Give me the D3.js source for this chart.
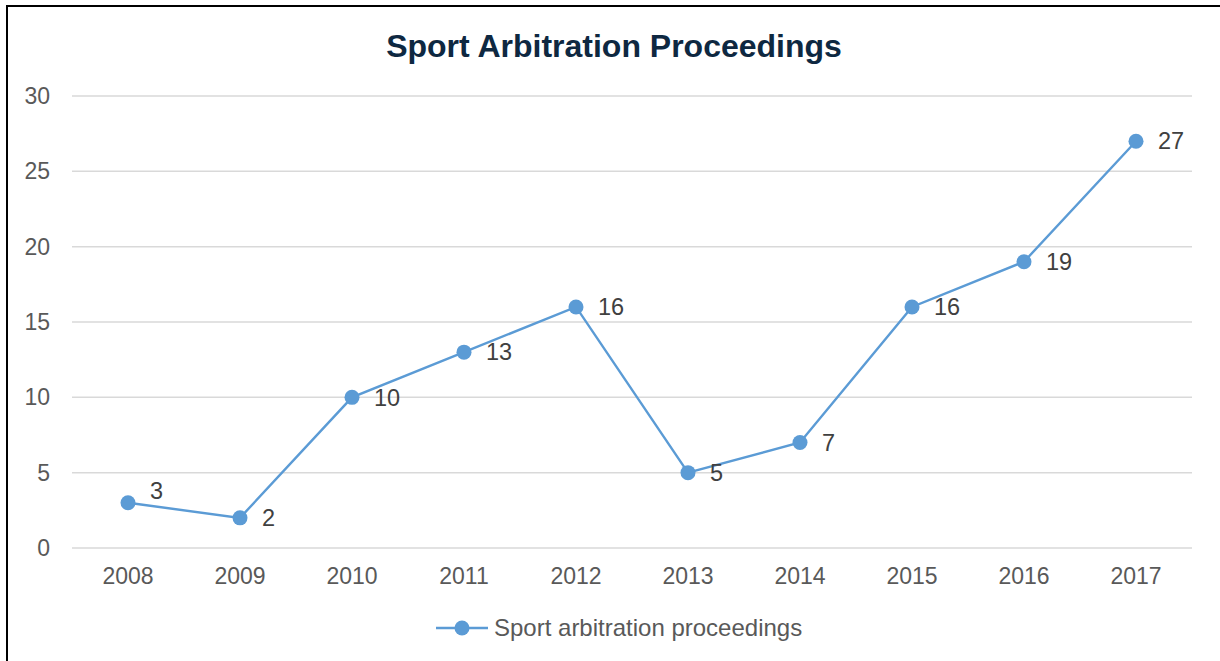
<!DOCTYPE html>
<html>
<head>
<meta charset="utf-8">
<script src="https://cdn.jsdelivr.net/npm/d3@7"></script>
<style>
  body { margin: 0; background: #fff; }
  text { font-family: "Liberation Sans", Arial, sans-serif; }
</style>
</head>
<body>
<div class="chart"></div>
<script>
// chart data
var years = ["2008", "2009", "2010", "2011", "2012", "2013", "2014", "2015", "2016", "2017"];
var proceedings = [3, 2, 10, 13, 16, 5, 7, 16, 19, 27];
var yTicks = [0, 5, 10, 15, 20, 25, 30];
var seriesName = "Sport arbitration proceedings";
var chartTitle = "Sport Arbitration Proceedings";

var svgWidth = 1220;
var svgHeight = 661;
var margin = { top: 96, right: 28, bottom: 113, left: 72 };
var width = svgWidth - margin.left - margin.right;
var height = svgHeight - margin.top - margin.bottom;

var lineColor = "#5b9bd5";

var svg = d3.select(".chart")
  .append("svg")
  .attr("width", svgWidth)
  .attr("height", svgHeight);

// outer border
svg.append("rect")
  .attr("x", 7).attr("y", 6)
  .attr("width", svgWidth).attr("height", svgHeight)
  .attr("fill", "none")
  .attr("stroke", "#000")
  .attr("stroke-width", 2);

svg.append("text")
  .attr("x", 614).attr("y", 57)
  .attr("text-anchor", "middle")
  .attr("font-size", 32)
  .attr("font-weight", "bold")
  .attr("fill", "#0e2841")
  .text(chartTitle);

var chart = svg.append("g")
  .attr("transform", "translate(" + margin.left + "," + margin.top + ")");

var xScale = d3.scaleBand().domain(years).range([0, width]);
var yScale = d3.scaleLinear().domain([0, 30]).range([height, 0]);

// gridlines
chart.append("g")
  .selectAll("line")
  .data(yTicks)
  .enter()
  .append("line")
  .attr("x1", 0).attr("x2", width)
  .attr("y1", function(d) { return yScale(d); })
  .attr("y2", function(d) { return yScale(d); })
  .attr("stroke", "#d9d9d9")
  .attr("stroke-width", 1.5);

// y axis labels
var leftAxis = d3.axisLeft(yScale).tickValues(yTicks).tickSize(0).tickPadding(22);
var yAxisG = chart.append("g").call(leftAxis);
yAxisG.select(".domain").remove();
yAxisG.attr("font-size", 23).attr("font-family", "'Liberation Sans', Arial, sans-serif");
yAxisG.selectAll("text").attr("fill", "#595959");

// x axis labels
var bottomAxis = d3.axisBottom(xScale).tickSize(0).tickPadding(20);
var xAxisG = chart.append("g")
  .attr("transform", "translate(0," + height + ")")
  .call(bottomAxis);
xAxisG.select(".domain").remove();
xAxisG.attr("font-size", 23).attr("font-family", "'Liberation Sans', Arial, sans-serif");
xAxisG.selectAll("text").attr("fill", "#595959");

function cx(i) { return xScale(years[i]) + xScale.bandwidth() / 2; }

var line = d3.line()
  .x(function(d, i) { return cx(i); })
  .y(function(d) { return yScale(d); });

chart.append("path")
  .datum(proceedings)
  .attr("d", line)
  .attr("fill", "none")
  .attr("stroke", lineColor)
  .attr("stroke-width", 2.4);

chart.selectAll(".dot")
  .data(proceedings)
  .enter()
  .append("circle")
  .attr("class", "dot")
  .attr("cx", function(d, i) { return cx(i); })
  .attr("cy", function(d) { return yScale(d); })
  .attr("r", 7.5)
  .attr("fill", lineColor);

// data labels, to the right of each point (first one nudged up off the line)
chart.selectAll(".lbl")
  .data(proceedings)
  .enter()
  .append("text")
  .attr("class", "lbl")
  .attr("x", function(d, i) { return cx(i) + 22; })
  .attr("y", function(d, i) { return yScale(d) + (i === 0 ? -12 : 0); })
  .attr("dy", "0.35em")
  .attr("font-size", 23.5)
  .attr("fill", "#404040")
  .text(function(d) { return d; });

// legend
var legend = svg.append("g").attr("transform", "translate(436,628)");
legend.append("line")
  .attr("x1", 0).attr("x2", 52)
  .attr("stroke", lineColor)
  .attr("stroke-width", 2.4);
legend.append("circle")
  .attr("cx", 26).attr("r", 7.5)
  .attr("fill", lineColor);
legend.append("text")
  .attr("x", 58).attr("dy", "0.35em")
  .attr("font-size", 24)
  .attr("fill", "#595959")
  .text(seriesName);
</script>
</body>
</html>
